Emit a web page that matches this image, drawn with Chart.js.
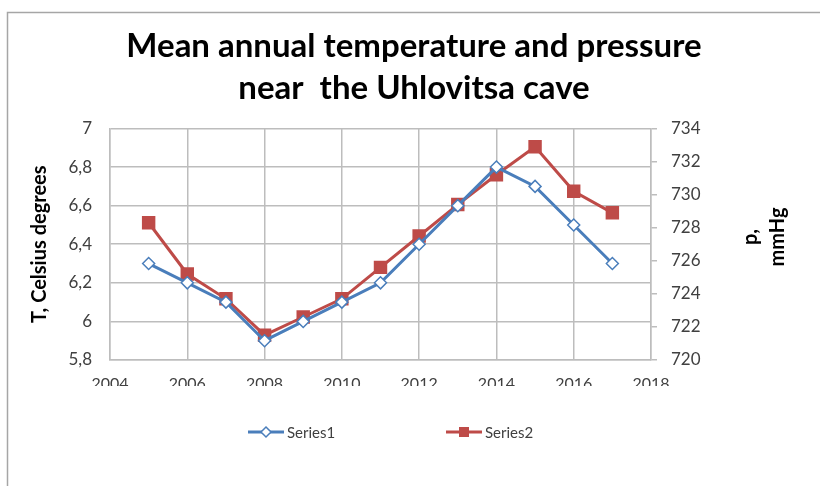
<!DOCTYPE html>
<html>
<head>
<meta charset="utf-8">
<script src="https://cdn.jsdelivr.net/npm/chart.js@4.4.1/dist/chart.umd.min.js"></script>
<style>
  html, body { margin: 0; padding: 0; background: #fff; }
  #wrap { width: 820px; height: 486px; }
</style>
</head>
<body>
<div id="wrap"><canvas id="chart" width="820" height="486"></canvas></div>
<script>
// data
const years = [2005, 2006, 2007, 2008, 2009, 2010, 2011, 2012, 2013, 2014, 2015, 2016, 2017];
const temperature = [6.3, 6.2, 6.1, 5.9, 6.0, 6.1, 6.2, 6.4, 6.6, 6.8, 6.7, 6.5, 6.3];
const pressure = [728.3, 725.2, 723.7, 721.5, 722.6, 723.7, 725.6, 727.5, 729.4, 731.2, 732.9, 730.2, 728.9];
const seriesNames = ["Series1", "Series2"];
const titleLines = ["Mean annual temperature and pressure", "near  the Uhlovitsa cave"];

const blue = "#4a7ebb";
const red = "#be4b48";
const gridColor = "#bdbdbd";
const textColor = "#404040";

const comma = (v) => (Math.round(v * 10) / 10).toString().replace(".", ",");

// outer frame, right axis title and bottom legend
const extras = {
  id: "extras",
  beforeDraw(chart) {
    const c = chart.ctx;
    c.save();
    c.fillStyle = "#fff";
    c.fillRect(0, 0, chart.width, chart.height);
    c.strokeStyle = "#a6a6a6";
    c.lineWidth = 1.5;
    c.strokeRect(7.5, 12.5, 900, 600);
    c.restore();
  },
  afterDraw(chart) {
    const c = chart.ctx;
    c.save();
    // right axis title, reading bottom to top
    c.fillStyle = "#000";
    c.font = "bold 20px Lato";
    c.textAlign = "center";
    c.textBaseline = "middle";
    c.translate(751, 237);
    c.rotate(-Math.PI / 2);
    c.fillText("p,", 0, 0);
    c.fillText("mmHg", 0, 27);
    c.restore();

    // legend
    const items = [
      { x: 248, ds: chart.data.datasets[0] },
      { x: 446, ds: chart.data.datasets[1] },
    ];
    const y = 432;
    items.forEach((it) => {
      c.save();
      c.strokeStyle = it.ds.borderColor;
      c.lineWidth = 3;
      c.beginPath();
      c.moveTo(it.x, y);
      c.lineTo(it.x + 36, y);
      c.stroke();
      const cx = it.x + 18;
      c.beginPath();
      if (it.ds.pointStyle === "rectRot") {
        c.moveTo(cx, y - 5);
        c.lineTo(cx + 5, y);
        c.lineTo(cx, y + 5);
        c.lineTo(cx - 5, y);
        c.closePath();
        c.fillStyle = "#fff";
        c.fill();
        c.lineWidth = 1.5;
        c.stroke();
      } else {
        c.rect(cx - 5, y - 5, 10, 10);
        c.fillStyle = it.ds.borderColor;
        c.fill();
      }
      c.fillStyle = textColor;
      c.font = "15px Lato";
      c.textAlign = "left";
      c.textBaseline = "middle";
      c.fillText(it.ds.label, it.x + 39, y + 1);
      c.restore();
    });
  },
};

new Chart(document.getElementById("chart"), {
  type: "line",
  data: {
    datasets: [
      {
        label: seriesNames[0],
        data: years.map((x, i) => ({ x: x, y: temperature[i] })),
        yAxisID: "y",
        borderColor: blue,
        backgroundColor: "#fff",
        borderWidth: 3,
        pointStyle: "rectRot",
        pointRadius: 6,
        pointBorderWidth: 1.5,
        pointBorderColor: blue,
        pointBackgroundColor: "#fff",
        tension: 0,
      },
      {
        label: seriesNames[1],
        data: years.map((x, i) => ({ x: x, y: pressure[i] })),
        yAxisID: "y1",
        borderColor: red,
        backgroundColor: red,
        borderWidth: 3,
        pointStyle: "rect",
        pointRadius: 9.5,
        pointBorderWidth: 0,
        pointBackgroundColor: red,
        tension: 0,
      },
    ],
  },
  plugins: [extras],
  options: {
    responsive: false,
    animation: false,
    layout: { padding: { left: 8, right: 0, top: 0, bottom: 100 } },
    plugins: {
      legend: { display: false },
      tooltip: { enabled: false },
      title: {
        display: true,
        text: titleLines,
        color: "#000",
        font: { family: "Lato", size: 33, weight: "bold", lineHeight: 1.25 },
        padding: { top: 26, bottom: 20 },
      },
    },
    scales: {
      x: {
        type: "linear",
        min: 2004,
        max: 2018,
        ticks: { stepSize: 2, color: textColor, font: { family: "Lato", size: 16 }, padding: 14, callback: (v) => String(v) },
        grid: { color: gridColor, lineWidth: 1.5, drawTicks: false },
        border: { color: gridColor, width: 1.5 },
        afterFit: (s) => { s.height = 26; },
      },
      y: {
        position: "left",
        min: 5.8,
        max: 7,
        ticks: { stepSize: 0.2, color: textColor, font: { family: "Lato", size: 17 }, padding: 18, callback: comma },
        grid: { color: gridColor, lineWidth: 1.5, drawTicks: false },
        border: { color: gridColor, width: 1.5 },
        title: {
          display: true,
          text: "T, Celsius degrees",
          color: "#000",
          font: { family: "Lato", size: 20, weight: "bold" },
          padding: { top: 20, bottom: 0 },
        },
        afterFit: (s) => { s.width = 102; },
      },
      y1: {
        position: "right",
        min: 720,
        max: 734,
        ticks: { stepSize: 2, color: textColor, font: { family: "Lato", size: 17 }, padding: 14 },
        grid: { drawOnChartArea: false, color: gridColor, lineWidth: 1.5, tickLength: 6 },
        border: { color: gridColor, width: 1.5 },
        afterFit: (s) => { s.width = 169; },
      },
    },
  },
});
</script>
</body>
</html>
